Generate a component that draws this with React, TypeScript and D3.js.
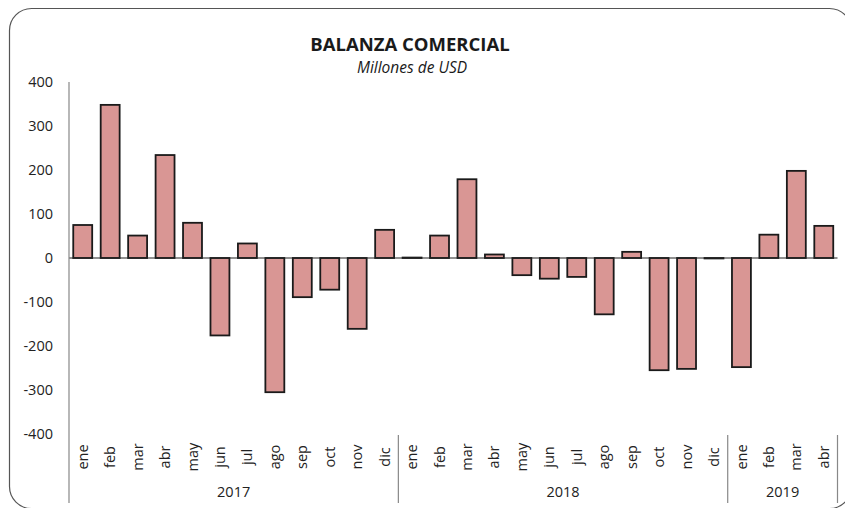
import React from "react";
import * as d3 from "d3";

const months = ["ene","feb","mar","abr","may","jun","jul","ago","sep","oct","nov","dic",
  "ene","feb","mar","abr","may","jun","jul","ago","sep","oct","nov","dic",
  "ene","feb","mar","abr"];
const values = [75, 348, 51, 234, 80, -176, 33, -305, -89, -72, -161, 64,
  1, 51, 179, 8, -39, -47, -43, -128, 14, -255, -252, -1,
  -248, 53, 198, 73];
const years = ["2017", "2018", "2019"];
const yearCounts = [12, 12, 4];
const yTicks = [400, 300, 200, 100, 0, -100, -200, -300, -400];

const W = 845, H = 508;
const FONT = "'Open Sans', 'Noto Sans', sans-serif";

export default function App() {
  const left = 69, right = 837.5;
  const x = d3.scaleBand<number>().domain(d3.range(months.length)).range([left, right]).paddingInner(0.31).paddingOuter(0.155);
  const y = d3.scaleLinear().domain([-400, 400]).range([434, 82]);
  const step = (right - left) / months.length;
  const y0 = y(0);

  let acc = 0;
  const groups = yearCounts.map((c, i) => {
    const start = acc; acc += c;
    return { label: years[i], x0: left + start * step, x1: left + acc * step };
  });

  return (
    <svg width={W} height={H} style={{ position: "absolute", left: 0, top: 0, background: "#fff" }}>
      <rect x={9.5} y={8.5} width={842} height={500} rx={22} ry={22} fill="#fff" stroke="#555" strokeWidth={1.2} />
      <text x={410} y={51} textAnchor="middle" fontFamily={FONT} fontWeight="bold" fontSize={18.5} fill="#1a1a1a">BALANZA COMERCIAL</text>
      <text x={412} y={73} textAnchor="middle" fontFamily={FONT} fontStyle="italic" fontSize={15.5} fill="#1a1a1a">Millones de USD</text>

      {yTicks.map(t => (
        <text key={t} x={53} y={y(t)} dy="0.35em" textAnchor="end" fontFamily={FONT} fontSize={14.5} fill="#222">{t}</text>
      ))}

      {values.map((v, i) => (
        <rect key={i} x={x(i)} width={x.bandwidth()} y={Math.min(y(v), y0)} height={Math.abs(y(v) - y0)}
          fill="#d99694" stroke="#1a1a1a" strokeWidth={1.8} />
      ))}

      <line x1={left} x2={right} y1={y0} y2={y0} stroke="#222" strokeWidth={1.2} />
      <line x1={left} x2={left} y1={82} y2={503} stroke="#888" strokeWidth={1.2} />

      {groups.map((g, i) => (
        <g key={i}>
          <line x1={g.x1} x2={g.x1} y1={435} y2={503} stroke="#888" strokeWidth={1.2} />
          <text x={(g.x0 + g.x1) / 2} y={497} textAnchor="middle" fontFamily={FONT} fontSize={14.5} fill="#222">{g.label}</text>
        </g>
      ))}

      {months.map((m, i) => {
        const cx = (x(i) as number) + x.bandwidth() / 2;
        return (
          <text key={i} transform={`translate(${cx},457) rotate(-90)`} textAnchor="middle" dy="0.35em"
            fontFamily={FONT} fontSize={14.5} fill="#222">{m}</text>
        );
      })}
    </svg>
  );
}
